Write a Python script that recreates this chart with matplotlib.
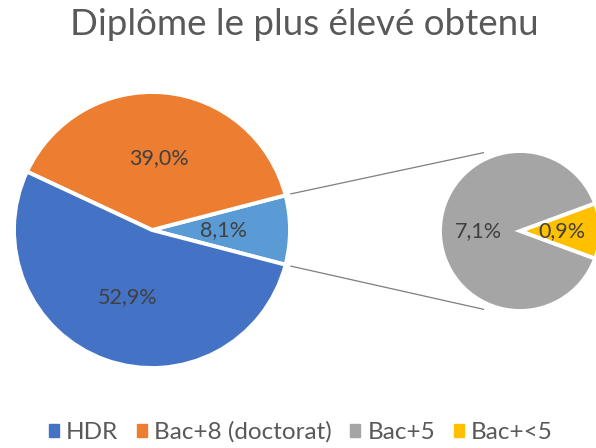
import numpy as np
import matplotlib.pyplot as plt
from matplotlib.patches import Patch

# Data
labels = ["HDR", "Bac+8 (doctorat)", "Bac+5", "Bac+<5"]
main_values = [52.9, 39.0]        # HDR, Bac+8
other_value = 8.1                 # Bac+5 + Bac+<5 (as shown)
sub_values = [7.1, 0.9]           # Bac+5, Bac+<5
colors = ["#4472C4", "#ED7D31", "#A5A5A5", "#FFC000"]
other_color = "#5B9BD5"

title = "Diplôme le plus élevé obtenu"
font = "Lato"
txt_color = "#404040"


def fmt(v):
    return f"{v:.1f}%".replace(".", ",")


fig = plt.figure(figsize=(5.96, 4.48), dpi=100)
ax = fig.add_axes([0, 0, 1, 1])

# geometry in pixel units
c1, r1 = (152, 218), 138
c2, r2 = (520, 217), 80

# Main pie: other slice centred on the right
vals1 = [other_value, main_values[1], main_values[0]]
half1 = other_value / sum(vals1) * 360 / 2
w1, _ = ax.pie(vals1, colors=[other_color, colors[1], colors[0]],
               startangle=-half1, center=c1, radius=r1,
               wedgeprops=dict(edgecolor="white", linewidth=2.8))
for w, v in zip(w1, vals1):
    th = np.deg2rad((w.theta1 + w.theta2) / 2)
    ax.text(c1[0] + 0.52 * r1 * np.cos(th), c1[1] + 0.52 * r1 * np.sin(th),
            fmt(v), ha="center", va="center", fontsize=15.5,
            color=txt_color, family=font)

# Secondary pie
vals2 = [sub_values[1], sub_values[0]]
half2 = vals2[0] / sum(vals2) * 360 / 2
w2, _ = ax.pie(vals2, colors=[colors[3], colors[2]], startangle=-half2,
               center=c2, radius=r2, explode=[0.06, 0],
               wedgeprops=dict(edgecolor="white", linewidth=2.8))
for w, v in zip(w2, vals2):
    th = np.deg2rad((w.theta1 + w.theta2) / 2)
    ax.text(w.center[0] + 0.52 * r2 * np.cos(th), w.center[1] + 0.52 * r2 * np.sin(th),
            fmt(v), ha="center", va="center", fontsize=15.5,
            color=txt_color, family=font)

# connector lines
for s in (1, -1):
    a1 = np.deg2rad(s * half1)
    a2 = np.deg2rad(s * 115)
    ax.plot([c1[0] + 1.04 * r1 * np.cos(a1), c2[0] + 1.08 * r2 * np.cos(a2)],
            [c1[1] + 1.04 * r1 * np.sin(a1), c2[1] + 1.08 * r2 * np.sin(a2)],
            color="#7F7F7F", linewidth=0.9)

ax.set_xlim(0, 596)
ax.set_ylim(0, 448)
ax.set_aspect("equal")
ax.axis("off")

fig.text(0.51, 0.945, title, ha="center", va="center", fontsize=26.5,
         color="#595959", family=font)

handles = [Patch(color=c) for c in colors]
fig.legend(handles, labels, loc="center left", bbox_to_anchor=(0.045, 0.035),
           ncol=4, frameon=False, handlelength=0.42,
           handleheight=0.42, handletextpad=0.3, columnspacing=0.75,
           prop=dict(family=font, size=17.5), labelcolor="#595959")

fig.savefig("out.png", dpi=100)
